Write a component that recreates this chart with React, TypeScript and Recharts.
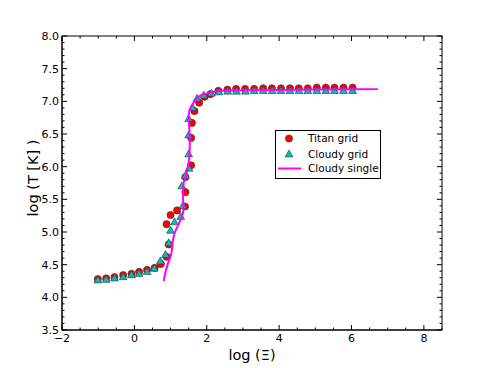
import { ScatterChart, Scatter, XAxis, YAxis } from 'recharts'

// Titan grid (red circles)
const titanX = [-1.01, -0.78, -0.55, -0.31, -0.08, 0.13, 0.35, 0.56, 0.73, 0.89, 0.95, 0.89, 1.0, 1.18, 1.4, 1.41, 1.41, 1.57, 1.57, 1.59, 1.66, 1.79, 1.94, 2.1, 2.32, 2.57, 2.81, 3.06, 3.31, 3.56, 3.8, 4.05, 4.3, 4.54, 4.79, 5.04, 5.29, 5.53, 5.78, 6.03]
const titanY = [4.28, 4.29, 4.31, 4.34, 4.36, 4.39, 4.42, 4.45, 4.51, 4.62, 4.81, 5.12, 5.26, 5.33, 5.39, 5.61, 5.84, 6.02, 6.44, 6.67, 6.85, 6.98, 7.07, 7.11, 7.16, 7.18, 7.19, 7.19, 7.19, 7.2, 7.2, 7.2, 7.2, 7.2, 7.2, 7.21, 7.21, 7.21, 7.21, 7.21]

// Cloudy grid (cyan triangles)
const cloudyX = [-1.01, -0.78, -0.55, -0.31, -0.08, 0.13, 0.35, 0.55, 0.72, 0.86, 0.95, 1.0, 1.11, 1.28, 1.34, 1.31, 1.41, 1.51, 1.5, 1.5, 1.5, 1.61, 1.73, 1.92, 2.13, 2.34, 2.58, 2.82, 3.07, 3.31, 3.56, 3.81, 4.05, 4.3, 4.55, 4.79, 5.04, 5.29, 5.53, 5.78, 6.03]
const cloudyY = [4.26, 4.27, 4.29, 4.31, 4.34, 4.36, 4.39, 4.44, 4.55, 4.65, 4.83, 5.02, 5.15, 5.23, 5.4, 5.7, 5.86, 5.97, 6.19, 6.48, 6.73, 6.9, 7.04, 7.09, 7.12, 7.14, 7.15, 7.15, 7.15, 7.16, 7.16, 7.16, 7.16, 7.16, 7.16, 7.16, 7.16, 7.16, 7.16, 7.16, 7.16]

// Cloudy single (magenta line)
const singleX = [0.81, 0.9, 1.02, 1.06, 1.11, 1.23, 1.32, 1.36, 1.34, 1.36, 1.41, 1.47, 1.52, 1.53, 1.52, 1.5, 1.57, 1.69, 1.87, 2.1, 2.36, 3.0, 4.0, 5.0, 6.0, 6.73]
const singleY = [4.25, 4.47, 4.67, 4.85, 4.98, 5.13, 5.24, 5.39, 5.54, 5.75, 5.82, 5.98, 6.15, 6.36, 6.56, 6.77, 6.92, 7.02, 7.1, 7.13, 7.16, 7.17, 7.175, 7.18, 7.185, 7.19]

const xMajor = [-2, 0, 2, 4, 6, 8]
const yMajor = [3.5, 4.0, 4.5, 5.0, 5.5, 6.0, 6.5, 7.0, 7.5, 8.0]
const xTicks = Array.from({ length: 22 }, (_, i) => -2 + i * 0.5)
const yTicks = Array.from({ length: 46 }, (_, i) => Math.round((3.5 + i * 0.1) * 10) / 10)

const titan = titanX.map((x, i) => ({ x, y: titanY[i] }))
const cloudy = cloudyX.map((x, i) => ({ x, y: cloudyY[i] }))
const single = singleX.map((x, i) => ({ x, y: singleY[i] }))

// plot frame (from the chart margins below)
const LEFT = 62
const RIGHT = 442
const TOP = 36
const BOTTOM = 330

const FONT = 'DejaVu Sans, sans-serif'
const isMajor = (v: number, list: number[]) => list.some((m) => Math.abs(m - v) < 1e-6)
const fmtX = (v: number) => (v < 0 ? '\u2212' + Math.abs(v) : String(v))

const BottomTick = (p: any) => {
  const v = p.payload.value
  const major = isMajor(v, xMajor)
  return (
    <g>
      <line x1={p.x} x2={p.x} y1={BOTTOM} y2={BOTTOM - (major ? 5 : 2.5)} stroke="#000" />
      <line x1={p.x} x2={p.x} y1={TOP} y2={TOP + (major ? 5 : 2.5)} stroke="#000" />
      {major && (
        <text x={p.x} y={BOTTOM + 12} textAnchor="middle" fontSize={11} fontFamily={FONT} fill="#000">
          {fmtX(v)}
        </text>
      )}
    </g>
  )
}

const LeftTick = (p: any) => {
  const v = p.payload.value
  const major = isMajor(v, yMajor)
  return (
    <g>
      <line x1={LEFT} x2={LEFT + (major ? 5 : 2.5)} y1={p.y} y2={p.y} stroke="#000" />
      <line x1={RIGHT} x2={RIGHT - (major ? 5 : 2.5)} y1={p.y} y2={p.y} stroke="#000" />
      {major && (
        <text x={LEFT - 3} y={p.y + 4} textAnchor="end" fontSize={11} fontFamily={FONT} fill="#000">
          {v.toFixed(1)}
        </text>
      )}
    </g>
  )
}

const Dot = (p: any) => <circle cx={p.cx} cy={p.cy} r={3.6} fill="#ff0000" stroke="#333" strokeWidth={0.6} />
const Tri = (p: any) => (
  <polygon
    points={`${p.cx},${p.cy - 4.3} ${p.cx - 3.9},${p.cy + 2.6} ${p.cx + 3.9},${p.cy + 2.6}`}
    fill="#00bfbf"
    stroke="#333"
    strokeWidth={0.6}
  />
)
const NoShape = () => <g />

const XTitle = () => (
  <g>
    <rect x={LEFT} y={TOP} width={RIGHT - LEFT} height={BOTTOM - TOP} fill="none" stroke="#000" strokeWidth={1} />
    <text x={252} y={360} textAnchor="middle" fontSize={14.5} fontFamily={FONT} fill="#000">
      log (Ξ)
    </text>
  </g>
)
const YTitle = () => (
  <text x={37.5} y={178} transform="rotate(-90 37.5 178)" textAnchor="middle" fontSize={14.5} fontFamily={FONT} fill="#000">
    log (T [K] )
  </text>
)

export default function App() {
  return (
    <div style={{ position: 'absolute', left: 0, top: 0, width: 491, height: 368, background: '#fff' }}>
      <ScatterChart width={491} height={368} margin={{ top: TOP, right: 491 - RIGHT, bottom: 0, left: 0 }}>
        <XAxis
          type="number"
          dataKey="x"
          domain={[-2, 8.5]}
          ticks={xTicks}
          interval={0}
          height={368 - BOTTOM}
          tickLine={false}
          tick={<BottomTick />}
          axisLine={{ stroke: '#000' }}
          allowDataOverflow
          label={<XTitle />}
        />
        <YAxis
          type="number"
          dataKey="y"
          domain={[3.5, 8]}
          ticks={yTicks}
          interval={0}
          width={LEFT}
          tickLine={false}
          tick={<LeftTick />}
          axisLine={{ stroke: '#000' }}
          allowDataOverflow
          label={<YTitle />}
        />
        <Scatter name="Titan grid" data={titan} shape={<Dot />} isAnimationActive={false} />
        <Scatter name="Cloudy grid" data={cloudy} shape={<Tri />} isAnimationActive={false} />
        <Scatter
          name="Cloudy single"
          data={single}
          shape={<NoShape />}
          line={{ stroke: '#ff00ff', strokeWidth: 2 }}
          lineJointType="monotoneY"
          isAnimationActive={false}
        />
      </ScatterChart>
      <svg width={491} height={368} style={{ position: 'absolute', left: 0, top: 0, pointerEvents: 'none' }}>
        <rect x={275.5} y={130.5} width={105} height={48} fill="#fff" stroke="#000" strokeWidth={1} />
        <circle cx={289} cy={138.5} r={3.6} fill="#ff0000" stroke="#333" strokeWidth={0.6} />
        <polygon points="289,150 285.1,156.9 292.9,156.9" fill="#00bfbf" stroke="#333" strokeWidth={0.6} />
        <line x1={278} x2={301} y1={168.5} y2={168.5} stroke="#ff00ff" strokeWidth={2} />
        <text x={308} y={142} fontSize={10.5} fontFamily={FONT} fill="#000">Titan grid</text>
        <text x={308} y={157.5} fontSize={10.5} fontFamily={FONT} fill="#000">Cloudy grid</text>
        <text x={308} y={172} fontSize={10.5} fontFamily={FONT} fill="#000">Cloudy single</text>
      </svg>
    </div>
  )
}
